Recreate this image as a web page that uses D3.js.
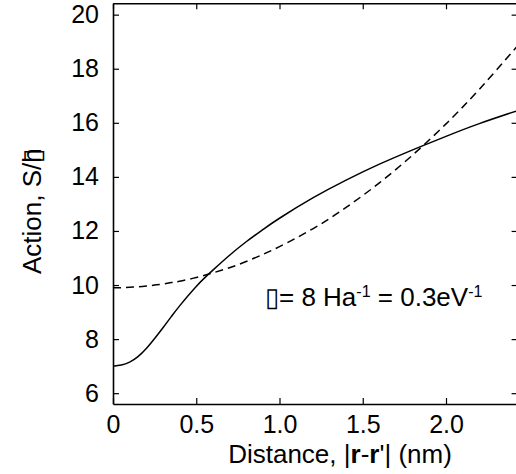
<!DOCTYPE html>
<html>
<head>
<meta charset="utf-8">
<script src="https://cdn.jsdelivr.net/npm/d3@7"></script>
<style>
  body { margin: 0; background: #fff; }
  svg { display: block; font-family: "Liberation Sans", Arial, sans-serif; }
</style>
</head>
<body>
<div id="chart"></div>
<script>
// distance |r-r'| in nm
const distance = [0, 0.05, 0.1, 0.15, 0.2, 0.25, 0.3, 0.35, 0.4, 0.5, 0.6, 0.7, 0.8, 0.9, 1.0, 1.2, 1.4, 1.6, 1.8, 2.0, 2.2, 2.43];
// solid curve (action S/hbar)
const actionSolid = [7.0, 7.04, 7.15, 7.35, 7.65, 8.02, 8.42, 8.83, 9.23, 9.95, 10.55, 11.1, 11.6, 12.05, 12.47, 13.22, 13.88, 14.47, 15.0, 15.5, 15.97, 16.45];
// dashed curve
const actionDashed = [9.9, 9.9, 9.92, 9.93, 9.96, 10.0, 10.04, 10.09, 10.14, 10.28, 10.45, 10.64, 10.87, 11.13, 11.42, 12.08, 12.87, 13.78, 14.81, 15.96, 17.24, 18.85];

const xTicks = [0, 0.5, 1.0, 1.5, 2.0];
const xTickLabels = ["0", "0.5", "1.0", "1.5", "2.0"];
const yTicks = [6, 8, 10, 12, 14, 16, 18, 20];

const width = 516;
const height = 474;

const svg = d3.select("#chart")
    .append("svg")
    .attr("width", width)
    .attr("height", height);

const x = d3.scaleLinear().domain([0, 2.43]).range([113, 517.6]);
const y = d3.scaleLinear().domain([5.6, 20.42]).range([404, 3.3]);

const tickFont = 25;
const titleFont = 26;

// axes (ticks pointing inward)
svg.append("g")
    .attr("transform", `translate(0, ${y.range()[0]})`)
    .call(d3.axisBottom(x).tickValues(xTicks).tickFormat((d, i) => xTickLabels[i])
        .tickSizeInner(-6).tickSizeOuter(0).tickPadding(11));

svg.append("g")
    .attr("transform", `translate(0, ${y.range()[1]})`)
    .call(d3.axisTop(x).tickValues(xTicks).tickFormat("")
        .tickSizeInner(-6).tickSizeOuter(0));

svg.append("g")
    .attr("transform", `translate(${x.range()[0]}, 0)`)
    .call(d3.axisLeft(y).tickValues(yTicks)
        .tickSizeInner(-6).tickSizeOuter(0).tickPadding(14));

svg.append("g")
    .attr("transform", `translate(${x.range()[1]}, 0)`)
    .call(d3.axisRight(y).tickValues(yTicks).tickFormat("")
        .tickSizeInner(-6).tickSizeOuter(0));

svg.selectAll(".domain").attr("stroke", "#000").attr("stroke-width", 1.6);
svg.selectAll(".tick line").attr("stroke", "#000").attr("stroke-width", 1.2);
svg.selectAll(".tick text")
    .attr("fill", "#000")
    .style("font-size", tickFont + "px")
    .style("font-family", "Liberation Sans, Arial, sans-serif");

// curves
const line = d3.line()
    .x(d => x(d[0]))
    .y(d => y(d[1]))
    .curve(d3.curveNatural);

svg.append("path")
    .datum(distance.map((d, i) => [d, actionDashed[i]]))
    .attr("d", line)
    .attr("fill", "none")
    .attr("stroke", "#000")
    .attr("stroke-width", 1.5)
    .attr("stroke-dasharray", "8,5");

svg.append("path")
    .datum(distance.map((d, i) => [d, actionSolid[i]]))
    .attr("d", line)
    .attr("fill", "none")
    .attr("stroke", "#000")
    .attr("stroke-width", 1.5);

// axis titles
svg.append("text")
    .attr("x", 340)
    .attr("y", 463)
    .attr("text-anchor", "middle")
    .style("font-size", titleFont + "px")
    .call(t => {
        t.append("tspan").text("Distance, |");
        t.append("tspan").attr("font-weight", "bold").text("r");
        t.append("tspan").text("-");
        t.append("tspan").attr("font-weight", "bold").text("r");
        t.append("tspan").text("'| (nm)");
    });

const yTitle = svg.append("text")
    .attr("transform", "translate(41, 274) rotate(-90)")
    .attr("text-anchor", "start")
    .style("font-size", titleFont + "px");
yTitle.append("tspan").text("Action, S/");
yTitle.append("tspan").text("\u25AF");
yTitle.append("tspan").attr("dx", -14).text("h");

// annotation
const note = svg.append("text")
    .attr("x", 265)
    .attr("y", 306)
    .style("font-size", titleFont + "px");
note.append("tspan").text("\u25AF= 8 Ha");
note.append("tspan").attr("dy", -9).style("font-size", "16px").text("-1");
note.append("tspan").attr("dy", 9).text(" = 0.3eV");
note.append("tspan").attr("dy", -9).style("font-size", "16px").text("-1");
</script>
</body>
</html>
